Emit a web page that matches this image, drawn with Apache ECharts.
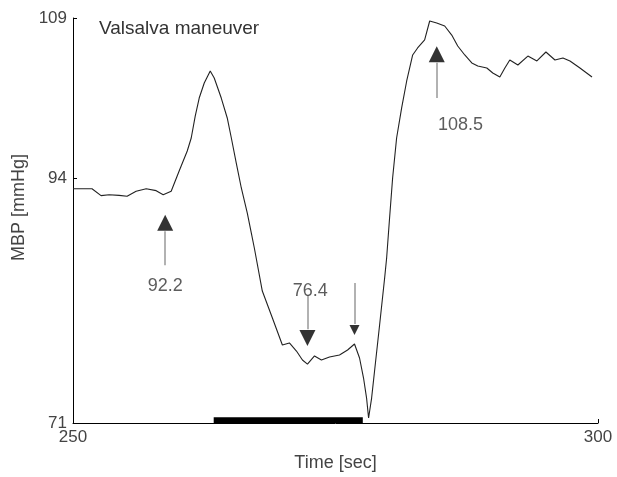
<!DOCTYPE html>
<html><head><meta charset="utf-8">
<script src="https://cdn.jsdelivr.net/npm/echarts@6/dist/echarts.min.js"></script>
<style>html,body{margin:0;padding:0;background:#fff}#c{width:617px;height:477px}</style>
</head><body><div id="c"></div>
<script>
// MBP trace during Valsalva maneuver
const timeSec = [250.00,251.81,252.67,253.44,254.39,255.15,256.01,256.97,257.92,258.59,259.35,260.11,260.88,261.26,261.64,262.02,262.50,263.07,263.45,264.12,264.69,265.08,265.55,266.03,266.60,266.98,267.27,268.03,268.99,269.94,270.61,271.28,271.85,272.33,273.00,273.66,274.43,275.38,276.15,276.81,277.29,277.67,277.96,278.15,278.44,278.72,279.20,279.68,279.87,280.15,280.44,280.82,281.30,281.78,282.35,282.82,283.49,283.97,284.64,285.40,286.07,286.64,287.31,287.98,288.55,289.41,289.98,290.65,291.13,291.60,292.37,293.32,294.18,295.04,295.90,296.66,297.33,298.28,299.43];
const mbp = [92.98,92.98,92.33,92.42,92.36,92.27,92.74,92.98,92.80,92.42,92.74,94.64,96.52,97.74,99.80,101.49,102.90,104.03,103.37,101.49,99.62,97.74,95.39,93.05,90.70,88.83,87.42,83.38,80.85,78.32,78.51,77.75,76.91,76.53,77.29,76.91,77.19,77.38,77.85,78.41,77.10,75.22,73.34,71.47,73.34,75.88,80.19,84.60,86.48,90.23,93.99,97.74,100.56,103.09,105.53,106.19,106.94,108.72,108.53,108.25,107.40,106.37,105.53,104.78,104.50,104.31,103.84,103.46,104.31,105.06,104.59,105.43,104.97,105.81,105.06,105.25,104.97,104.31,103.46];
const yTicks = [71, 94, 109];
const xTicks = [250, 300];
// strain period (black bar)
const strainStart = 263.4, strainEnd = 277.6;
// annotations: arrow time, head value, shaft from/to, direction, head size
const arrowTime = [258.78, 272.33, 276.81, 284.64];
const arrowHead = [89.8, 78.98, 79.73, 105.6];
const shaftFrom = [85.8, 83.0, 84.13, 101.5];
const shaftTo = [89.0, 79.8, 80.3, 104.8];
const arrowDir = ['up', 'down', 'down', 'up'];
const arrowSize = [16, 16, 10, 16];
const annTexts = ['92.2', '76.4', '108.5'];
const annTime = [258.78, 272.6, 286.9];
const annValue = [83.85, 83.38, 98.96];

const chart = echarts.init(document.getElementById('c'));
const font = 'Liberation Sans, Arial, sans-serif';
chart.setOption({
  animation: false,
  backgroundColor: '#fff',
  grid: {left: 73, right: 19, top: 18, bottom: 53},
  title: {text: 'Valsalva maneuver', left: 94, top: 14,
    textStyle: {fontFamily: font, fontSize: 19, fontWeight: 'normal', color: '#333'}},
  xAxis: {type: 'value', min: 250, max: 300,
    name: 'Time [sec]', nameLocation: 'middle', nameGap: 31,
    nameTextStyle: {fontFamily: font, fontSize: 18, color: '#444'},
    axisLine: {lineStyle: {color: '#000', width: 1}},
    axisTick: {show: true, inside: true, length: 4, customValues: xTicks, lineStyle: {color: '#000'}},
    axisLabel: {customValues: xTicks, fontFamily: font, fontSize: 17, color: '#444', margin: 6},
    splitLine: {show: false}},
  yAxis: {type: 'value', min: 71, max: 109,
    name: 'MBP [mmHg]', nameLocation: 'middle', nameGap: 44, nameRotate: 90,
    nameTextStyle: {fontFamily: font, fontSize: 18, color: '#444', padding: [0, 0, 0, 26]},
    axisLine: {show: true, lineStyle: {color: '#000', width: 1}},
    axisTick: {show: true, inside: true, length: 4, customValues: yTicks, lineStyle: {color: '#000'}},
    axisLabel: {customValues: yTicks, fontFamily: font, fontSize: 17, color: '#444', margin: 6},
    splitLine: {show: false}},
  series: [
    {type: 'line', data: timeSec.map((t, i) => [t, mbp[i]]), symbol: 'none',
     lineStyle: {color: '#222', width: 1.1},
     markArea: {silent: true, itemStyle: {color: '#000'},
       data: [[{coord: [strainStart, 71]}, {coord: [strainEnd, 71.55]}]]}},
    {type: 'lines', coordinateSystem: 'cartesian2d', silent: true,
     lineStyle: {color: '#999', width: 1.5, opacity: 1},
     data: arrowTime.map((t, i) => ({coords: [[t, shaftFrom[i]], [t, shaftTo[i]]]}))},
    {type: 'scatter', silent: true, symbol: 'triangle',
     itemStyle: {color: '#000'},
     data: arrowTime.map((t, i) => ({value: [t, arrowHead[i]],
       symbolRotate: arrowDir[i] === 'up' ? 0 : 180,
       symbolSize: arrowSize[i]}))},
    {type: 'scatter', silent: true, symbolSize: 0,
     label: {show: true, position: 'inside', formatter: p => p.name,
       fontFamily: font, fontSize: 18, color: '#333'},
     data: annTexts.map((s, i) => ({name: s, value: [annTime[i], annValue[i]]}))}
  ]
});
</script></body></html>
